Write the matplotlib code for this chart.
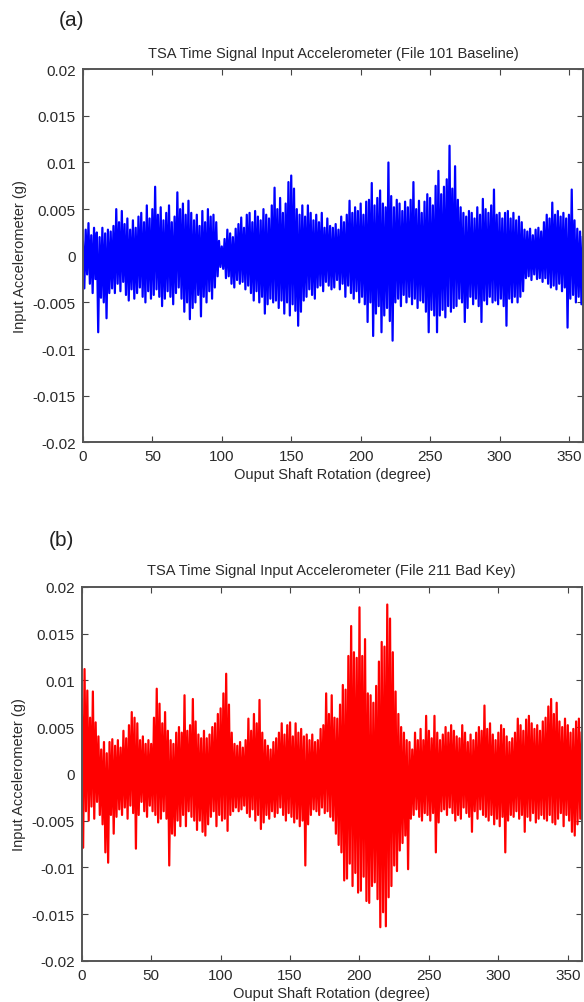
import numpy as np
import matplotlib
matplotlib.use('Agg')
import matplotlib.pyplot as plt
from matplotlib.ticker import FuncFormatter

# signal peaks in mg, one per degree of output shaft rotation (0..360)
baseline_mg = [
    1.5, -3.5, 2.8, -2.0, 3.5, -3.0, 2.2, -4.0, 3.0, -2.5,
    2.5, -8.2, 2.0, -4.5, 3.0, -5.0, 2.4, -6.7, 2.8, -4.0,
    2.6, -3.5, 3.2, -4.0, 5.0, -3.0, 3.6, -3.8, 4.8, -2.8,
    3.4, -4.2, 4.0, -4.8, 2.8, -3.6, 3.8, -4.6, 3.0, -4.0,
    4.2, -3.4, 4.6, -4.4, 3.6, -5.0, 5.4, -3.8, 4.0, -4.6,
    5.0, -4.2, 7.4, -3.6, 4.4, -4.4, 5.2, -5.4, 3.8, -4.6,
    4.6, -3.8, 5.4, -4.4, 3.6, -5.2, 4.2, -4.0, 6.8, -3.4,
    5.0, -4.6, 5.6, -6.0, 4.4, -5.0, 5.9, -6.8, 4.6, -5.6,
    3.8, -5.0, 4.4, -4.2, 3.2, -6.5, 4.8, -4.4, 3.6, -5.0,
    5.0, -3.8, 4.2, -4.6, 4.4, -3.4, 3.6, -2.2, 1.6, -1.2,
    1.0, -1.4, 1.8, -2.4, 2.8, -2.2, 2.4, -3.0, 2.0, -3.4,
    2.9, -2.6, 3.4, -3.0, 4.1, -2.8, 3.0, -3.6, 4.4, -3.2,
    4.6, -4.0, 3.6, -4.8, 4.8, -3.8, 4.2, -5.0, 3.8, -4.4,
    5.0, -6.2, 4.4, -5.2, 4.0, -4.6, 5.4, -5.0, 7.3, -4.8,
    5.0, -5.6, 6.2, -4.8, 4.6, -6.2, 5.6, -5.0, 7.9, -6.4,
    8.6, -5.2, 7.2, -5.9, 5.0, -7.5, 4.4, -6.0, 5.4, -4.8,
    4.2, -4.4, 5.4, -3.6, 4.6, -4.2, 3.8, -4.6, 4.4, -3.4,
    3.6, -3.2, 4.6, -3.8, 3.0, -2.8, 4.0, -3.2, 3.2, -3.6,
    3.0, -3.4, 3.4, -2.6, 2.8, -3.6, 4.2, -3.0, 3.6, -4.4,
    4.4, -3.2, 5.9, -4.0, 4.6, -4.6, 5.2, -3.8, 4.8, -5.0,
    5.6, -4.4, 4.4, -5.2, 5.8, -7.1, 6.0, -5.0, 7.8, -8.6,
    5.4, -6.2, 6.2, -5.4, 7.0, -8.2, 5.6, -6.4, 5.2, -5.6,
    10.0, -7.0, 6.4, -9.1, 5.2, -5.0, 6.0, -4.6, 5.6, -5.4,
    4.8, -4.2, 5.8, -5.0, 5.2, -4.4, 6.0, -5.2, 7.9, -4.6,
    5.0, -5.6, 5.9, -4.8, 4.6, -5.0, 5.8, -6.0, 6.6, -8.2,
    6.2, -5.8, 5.4, -6.4, 7.5, -8.2, 9.1, -6.4, 6.6, -5.8,
    7.4, -6.6, 8.2, -5.4, 11.8, -6.0, 7.2, -5.6, 9.6, -5.4,
    6.0, -4.6, 5.2, -5.0, 4.6, -7.1, 4.2, -5.6, 4.8, -4.4,
    4.6, -5.2, 4.0, -4.6, 5.2, -5.4, 4.4, -7.1, 6.1, -4.8,
    5.0, -5.2, 4.6, -4.4, 5.4, -5.0, 7.1, -4.8, 4.4, -5.2,
    4.6, -4.6, 4.0, -5.4, 4.6, -7.5, 4.8, -4.6, 4.0, -5.0,
    4.6, -4.4, 3.8, -5.0, 4.2, -4.4, 3.6, -3.8, 2.8, -2.4,
    2.6, -2.2, 2.9, -2.6, 2.2, -2.0, 2.8, -2.5, 3.0, -2.4,
    2.6, -2.8, 3.6, -2.4, 4.4, -3.0, 4.0, -3.4, 5.7, -3.2,
    4.4, -3.6, 4.8, -3.0, 4.2, -3.8, 4.6, -3.4, 4.0, -7.7,
    4.4, -4.6, 7.1, -4.2, 3.8, -5.0, 2.9, -4.4, 2.6, -5.2,
    2.0,
]

badkey_mg = [
    8.0, -7.9, 11.2, -4.0, 8.9, -5.0, 6.0, -3.5, 8.8, -4.8,
    5.5, -3.0, 4.0, -4.4, 2.6, -5.4, 3.4, -8.4, 2.2, -9.5,
    3.4, -4.4, 3.7, -6.4, 3.0, -4.6, 3.6, -3.8, 2.8, -4.4,
    4.6, -3.6, 3.8, -4.8, 5.2, -3.4, 6.6, -4.2, 6.0, -8.0,
    5.4, -4.4, 3.6, -3.0, 4.0, -4.0, 3.2, -4.6, 3.6, -3.4,
    3.2, -4.0, 6.0, -4.4, 9.1, -5.2, 7.5, -4.8, 5.4, -4.0,
    6.6, -4.8, 4.6, -9.8, 3.6, -6.4, 3.2, -6.6, 4.4, -5.0,
    5.0, -5.6, 4.4, -4.4, 8.4, -5.6, 4.6, -4.0, 5.2, -4.6,
    8.0, -5.0, 5.6, -6.0, 4.2, -5.0, 3.8, -6.2, 4.6, -6.6,
    3.8, -5.4, 4.2, -4.6, 5.0, -4.0, 5.4, -5.6, 6.4, -4.4,
    7.0, -5.0, 8.6, -4.8, 10.7, -6.1, 7.4, -4.4, 4.4, -4.0,
    3.2, -3.6, 3.0, -4.0, 3.4, -3.8, 2.8, -3.4, 3.6, -4.2,
    5.9, -4.6, 4.6, -3.8, 6.4, -5.0, 5.4, -4.4, 7.9, -5.9,
    4.4, -5.2, 3.6, -4.4, 3.0, -4.8, 2.6, -4.0, 3.4, -4.6,
    3.8, -4.2, 4.4, -3.6, 5.4, -4.4, 4.2, -5.0, 5.2, -4.2,
    5.5, -4.6, 4.0, -5.2, 5.4, -4.8, 4.4, -5.6, 4.8, -5.0,
    4.0, -9.8, 4.2, -5.4, 3.6, -4.4, 4.2, -3.8, 3.4, -4.0,
    3.6, -4.4, 4.8, -3.6, 5.2, -4.2, 8.6, -4.0, 6.4, -4.6,
    8.4, -5.0, 6.0, -6.4, 5.9, -7.6, 7.4, -8.4, 9.5, -11.4,
    9.0, -11.2, 12.6, -9.6, 15.8, -12.0, 13.0, -10.6, 12.4, -12.7,
    17.8, -12.5, 12.6, -11.0, 14.4, -13.6, 8.6, -13.8, 8.4, -12.0,
    7.6, -11.6, 9.4, -13.4, 12.0, -16.4, 14.1, -14.8, 13.6, -16.3,
    18.1, -13.2, 16.6, -12.0, 13.0, -9.8, 8.8, -10.4, 6.4, -8.2,
    5.0, -7.4, 4.4, -6.6, 3.6, -10.2, 3.4, -4.8, 2.6, -4.4,
    4.4, -3.8, 3.6, -4.6, 4.8, -5.0, 3.6, -4.2, 6.2, -4.4,
    4.6, -5.0, 3.8, -4.2, 6.2, -8.4, 4.4, -5.2, 3.6, -4.0,
    4.2, -3.8, 5.0, -4.4, 4.4, -3.6, 5.2, -4.2, 4.6, -5.0,
    4.0, -4.4, 3.8, -4.8, 5.2, -3.6, 4.4, -4.2, 3.4, -4.6,
    4.2, -6.2, 3.6, -4.0, 4.4, -4.8, 5.0, -3.8, 4.6, -4.4,
    7.3, -4.6, 4.8, -5.0, 5.4, -4.4, 4.2, -5.4, 3.6, -4.8,
    4.4, -5.6, 5.2, -4.6, 4.8, -8.4, 4.0, -5.0, 3.4, -4.4,
    3.8, -4.6, 4.4, -4.0, 5.9, -4.8, 5.2, -4.4, 4.6, -6.2,
    5.8, -4.6, 6.2, -5.0, 5.4, -4.2, 4.8, -5.2, 5.2, -4.8,
    4.6, -4.4, 5.6, -4.8, 6.0, -5.0, 7.2, -4.4, 8.0, -5.2,
    6.4, -5.4, 7.6, -4.8, 5.6, -4.2, 5.0, -5.6, 5.9, -4.4,
    5.2, -5.0, 4.4, -6.2, 4.8, -6.6, 5.6, -5.4, 5.9, -4.8,
    4.4,
]

titles = ['TSA Time Signal Input Accelerometer (File 101 Baseline)',
          'TSA Time Signal Input Accelerometer (File 211 Bad Key)']
panel_tags = ['(a)', '(b)']
colors = ['#0000ff', '#ff0000']
yticks = [-0.02, -0.015, -0.01, -0.005, 0, 0.005, 0.01, 0.015, 0.02]
xticks = [0, 50, 100, 150, 200, 250, 300, 350]

txt = '#2a2a2a'
plt.rcParams['font.family'] = ['Liberation Sans', 'DejaVu Sans']

fig = plt.figure(figsize=(5.84, 10.03), dpi=100)
axes_pos = [[0.142, 0.558, 0.856, 0.372],
            [0.140, 0.041, 0.856, 0.373]]
tag_pos = [(0.123, 0.980), (0.106, 0.461)]

for i, data in enumerate([baseline_mg, badkey_mg]):
    ax = fig.add_axes(axes_pos[i])
    y = np.array(data) * 1e-3
    x = np.arange(len(y))
    ax.plot(x, y, color=colors[i], lw=1.6)
    ax.set_xlim(0, 360)
    ax.set_ylim(-0.02, 0.02)
    ax.set_xticks(xticks)
    ax.set_yticks(yticks)
    ax.yaxis.set_major_formatter(FuncFormatter(lambda v, p: '%g' % round(v, 4)))
    ax.tick_params(direction='in', top=True, right=True, length=4,
                   width=0.8, color='#444444', labelsize=11, labelcolor=txt,
                   pad=5)
    for s in ax.spines.values():
        s.set_color('#555555')
        s.set_linewidth(1.4)
    ax.set_title(titles[i], fontsize=10.5, color=txt, pad=9)
    ax.set_ylabel('Input Accelerometer (g)', fontsize=10.5, color=txt, labelpad=4)
    ax.set_xlabel('Ouput Shaft Rotation (degree)', fontsize=10.5, color=txt, labelpad=3)
    fig.text(tag_pos[i][0], tag_pos[i][1], panel_tags[i], fontsize=15,
             color='#222222', ha='center', va='center')

fig.savefig('out.png', dpi=100)
